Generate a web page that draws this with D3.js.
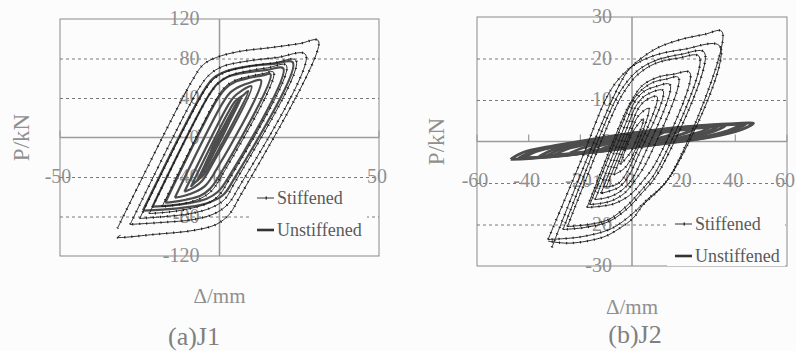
<!DOCTYPE html>
<html>
<head>
<meta charset="utf-8">
<script src="https://cdn.jsdelivr.net/npm/d3@7"></script>
<style>
  body { margin: 0; background: #fcfcfc; }
  svg { display: block; }
  text { font-family: "Liberation Serif", "DejaVu Serif", "Noto Serif", serif; }
</style>
</head>
<body>
<div id="chart"></div>
<script>
// --- data (displacement mm, load kN), one loop per array
var seriesNames = ['Stiffened', 'Unstiffened'];
var panelTitles = ['(a)J1', '(b)J2'];

var j1XTicks = [-50, 0, 50];
var j1YTicks = [-120, -80, -40, 0, 40, 80, 120];
var j2XTicks = [-60, -40, -20, 0, 20, 40, 60];
var j2YTicks = [-30, -20, -10, 0, 10, 20, 30];

var j1Stiffened = [
  [[-32,-92],[-8.5,58],[-5,74],[-1,81],[6,87],[16,91],[25,95],[31,98],[6,-62],[3,-78],[-1,-88],[-8,-94],[-20,-98],[-32,-101],[-31,-99]],
  [[-28,-88],[-6.4,50],[-3,64],[1,72],[8,77],[18,81],[27,84],[5.6,-53],[2.5,-68],[-1.5,-77],[-8,-83],[-18,-86],[-28,-88]],
  [[-25,-82],[-4.8,47],[-1.5,60],[2.5,67],[9,72],[17,75.5],[24,78],[4.2,-49],[1.5,-63],[-2.5,-71],[-9,-77],[-17,-80],[-25,-82]],
  [[-22,-77],[-3.1,44],[0,56],[3.5,63],[9,67.5],[15,70.5],[21,73],[2.4,-46],[-0.3,-59],[-4,-67],[-10,-72.5],[-16,-75.5],[-22,-77]],
  [[-18,-70],[-0.8,40],[2,52],[5,58],[9.5,62],[13.5,64.5],[17,66],[0.1,-42],[-2.5,-54],[-5.5,-61],[-10,-66],[-14,-68.5],[-18,-70]]
];
var j1Unstiffened = [
  [[-24,-74],[-5.2,46],[-2,60],[2,67],[9,72],[17,74.5],[23,76],[4.2,-44],[1.2,-58],[-3,-65.5],[-10,-70.5],[-18,-73],[-24,-74]],
  [[-21,-70],[-3.5,42],[-0.5,55],[3,62],[8.5,66],[15,68.5],[20,70],[2.5,-42],[-0.5,-55],[-4,-62],[-9.5,-66.5],[-16,-69],[-21,-70]],
  [[-17,-66],[-0.8,38],[2,50],[5,56.5],[9.5,60.5],[13.5,62.8],[16,64],[-0.3,-40],[-3,-52],[-6,-59],[-10.5,-63],[-14.5,-65.2],[-17,-66]],
  [[-14,-61],[1,35],[3.5,46],[6.5,52],[9.5,55.5],[13,58],[-1.8,-37],[-4.5,-49],[-7.5,-55],[-11,-59],[-14,-61]],
  [[-11,-55],[2.4,31],[4.5,41],[7,47.5],[10,52],[-3.3,-33],[-5.5,-44],[-8,-50.5],[-11,-55]],
  [[-9,-50],[2.5,24],[5,37],[7.5,43],[9,47],[-2.5,-25],[-5,-38],[-7.5,-45],[-9,-50]],
  [[-7,-44],[2.8,20],[5.5,34],[7,41],[-2.8,-20],[-5.5,-35],[-7,-44]],
  [[-6,-40],[1.5,10],[4.5,30],[6,38],[-1.5,-10],[-4.5,-31],[-6,-40]],
  [[-5,-36],[2.5,14],[4.5,27],[5.5,34],[-2.5,-14],[-4.5,-28],[-5,-36]],
  [[-4,-30],[1,4],[3.5,22],[4.5,29],[-1,-4],[-3.5,-23],[-4,-30]],
  [[-3.5,-26],[2,8],[3.5,20],[-2,-8],[-3.5,-26]]
];

var j2Stiffened = [
  [[-31,-25.5],[-16,-2],[-5,13.5],[-1,17.5],[3.5,20],[10,22.6],[19,24.6],[28,25.8],[34.8,26.5],[14.7,-8.4],[4,-15.5],[0.4,-18.5],[-5,-21],[-11,-23],[-24,-24.5],[-32.5,-24]],
  [[-32.5,-23.6],[-20,-5],[-9.5,11],[-4.5,15.5],[1,18.5],[9,20.8],[20,22.2],[34,23],[15.2,-8],[5,-14.5],[0,-17.5],[-8,-21],[-20,-23],[-32.5,-23.6]],
  [[-26.7,-21.2],[-7.2,9],[-3,13.5],[2,17],[9,19.5],[19,21],[28,21.5],[10.7,-7],[3,-13],[-1.5,-16],[-9,-19.3],[-18,-20.7],[-26.7,-21.2]],
  [[-25,-20.5],[-6.5,8],[-2.5,12.5],[2,16],[9,18.8],[18,20.1],[26,20.5],[9.5,-7],[2.5,-12.5],[-2,-15.5],[-9,-18.8],[-17,-20],[-25,-20.5]],
  [[-17.4,-15.9],[-3.3,6],[0,10],[4,13.5],[10,15.5],[16,16.2],[22.4,16.6],[9.3,-5],[3.5,-10],[-1,-13],[-7,-15],[-12,-15.6],[-17.4,-15.9]],
  [[-16.3,-15.2],[-3.3,5],[-0.5,9],[3,12],[8,14.2],[13,15],[18,15.4],[5.6,-5],[1,-9.5],[-3,-12.5],[-8,-14.3],[-12,-14.9],[-16.3,-15.2]],
  [[-14.3,-14],[-2,5],[1,9.5],[4.5,12],[9,13.2],[14.7,13.7],[3.4,-5],[-0.5,-9.5],[-4.5,-12],[-9,-13.4],[-14.3,-14]],
  [[-12,-12.5],[-1.5,4],[1.5,8.5],[5,11],[12,12.3],[2,-4],[-1.5,-8.5],[-5,-11],[-12,-12.5]],
  [[-10,-11],[-0.3,4],[2.5,8],[5.5,10],[9.7,10.8],[0.7,-4],[-2.5,-8],[-5.5,-10.2],[-10,-11]],
  [[-7,-8],[0,3],[2.5,6.2],[6.5,8],[0.5,-3],[-3,-6.5],[-7,-8]],
  [[-4.5,-5.5],[0.5,2.5],[4.5,5.5],[-0.5,-2.5],[-4.5,-5.5]]
];
var j2Unstiffened = [
  [[-47,-4.3],[-42,-2.6],[-30,-1.0],[-15,0.6],[0,2.0],[15,3.2],[30,4.0],[40,4.3],[47,4.4],[42,2.8],[30,1.0],[15,-0.3],[0,-1.5],[-15,-2.6],[-30,-3.6],[-40,-4.1],[-47,-4.3]],
  [[-44,-4.1],[-39,-2.5],[-28,-1.0],[-14,0.5],[0,1.9],[14,3.0],[28,3.8],[38,4.1],[44,4.2],[39,2.7],[28,0.9],[14,-0.3],[0,-1.4],[-14,-2.5],[-28,-3.5],[-38,-3.9],[-44,-4.1]],
  [[-42,-4.0],[-37,-2.4],[-26,-0.9],[-13,0.5],[0,1.8],[13,2.9],[26,3.7],[36,4.0],[42,4.1],[37,2.6],[26,0.9],[13,-0.3],[0,-1.3],[-13,-2.4],[-26,-3.3],[-36,-3.8],[-42,-4.0]],
  [[-36,-3.6],[-31,-2.1],[-22,-0.7],[-11,0.5],[0,1.6],[11,2.6],[22,3.3],[31,3.6],[36,3.7],[31,2.3],[22,0.8],[11,-0.3],[0,-1.2],[-11,-2.1],[-22,-3.0],[-31,-3.4],[-36,-3.6]],
  [[-33,-3.4],[-28,-2.0],[-20,-0.7],[0,1.5],[10,2.4],[20,3.1],[28,3.4],[33,3.5],[28,2.1],[20,0.8],[0,-1.1],[-10,-2.0],[-20,-2.8],[-28,-3.2],[-33,-3.4]],
  [[-30,-3.2],[-25,-1.8],[-17,-0.6],[0,1.4],[10,2.3],[18,2.9],[25,3.2],[30,3.3],[25,2.0],[17,0.7],[0,-1.0],[-10,-1.9],[-18,-2.6],[-25,-3.0],[-30,-3.2]],
  [[-24,-2.8],[-19,-1.5],[-12,-0.5],[0,1.2],[8,1.9],[14,2.5],[20,2.8],[24,2.9],[19,1.7],[12,0.6],[0,-0.9],[-8,-1.6],[-14,-2.2],[-20,-2.6],[-24,-2.8]],
  [[-18,-2.4],[-14,-1.3],[-7,-0.2],[0,1.0],[7,1.7],[14,2.3],[18,2.5],[14,1.4],[7,0.3],[0,-0.7],[-7,-1.5],[-14,-2.1],[-18,-2.4]],
  [[-12,-1.9],[-8,-0.9],[0,0.7],[6,1.4],[12,2.0],[8,1.0],[0,-0.5],[-6,-1.2],[-12,-1.9]],
  [[-7,-1.4],[-4,-0.5],[3,0.8],[7,1.5],[4,0.6],[-3,-0.7],[-7,-1.4]]
];

var textGray = '#8f8f8f';
var axisGray = '#9a9a9a';

var svg = d3.select('#chart').append('svg')
  .attr('width', 796)
  .attr('height', 351);

function drawPanel(cfg) {
  var x = d3.scaleLinear().domain(cfg.xDomain).range([cfg.left, cfg.right]);
  var y = d3.scaleLinear().domain(cfg.yDomain).range([cfg.bottom, cfg.top]);
  var g = svg.append('g');

  // frame
  g.append('rect')
    .attr('x', cfg.left).attr('y', cfg.top)
    .attr('width', cfg.right - cfg.left).attr('height', cfg.bottom - cfg.top)
    .attr('fill', 'none').attr('stroke', '#8a8a8a').attr('stroke-width', 1);

  // dashed gridlines
  var inner = cfg.yTicks.filter(function (t) {
    return t !== 0 && t !== cfg.yDomain[0] && t !== cfg.yDomain[1];
  });
  g.selectAll('.grid').data(inner).enter().append('line')
    .attr('x1', cfg.left).attr('x2', cfg.right)
    .attr('y1', function (d) { return y(d) + 0.5; })
    .attr('y2', function (d) { return y(d) + 0.5; })
    .attr('stroke', '#7a7a7a').attr('stroke-width', 1)
    .attr('stroke-dasharray', '3,3');

  // axes through zero
  g.append('line')
    .attr('x1', cfg.left).attr('x2', cfg.right)
    .attr('y1', y(0)).attr('y2', y(0))
    .attr('stroke', axisGray).attr('stroke-width', 1.5);
  g.append('line')
    .attr('x1', x(0)).attr('x2', x(0))
    .attr('y1', cfg.top).attr('y2', cfg.bottom)
    .attr('stroke', axisGray).attr('stroke-width', 1.5);

  // small tick marks on the x axis
  g.selectAll('.xt').data(cfg.xTicks).enter().append('line')
    .attr('x1', function (d) { return x(d); })
    .attr('x2', function (d) { return x(d); })
    .attr('y1', y(0)).attr('y2', y(0) - 7)
    .attr('stroke', axisGray).attr('stroke-width', 1.2);

  // tick labels (drawn under the curves)
  g.selectAll('.yl').data(cfg.yTicks).enter().append('text')
    .attr('x', x(0) - 20)
    .attr('y', function (d) { return y(d) + 6; })
    .attr('text-anchor', 'end')
    .attr('fill', textGray)
    .style('font-size', '20px')
    .text(function (d) { return d; });
  g.selectAll('.xl').data(cfg.xTicks).enter().append('text')
    .attr('x', function (d) { return x(d) - 2; })
    .attr('y', y(0) + 45)
    .attr('text-anchor', 'middle')
    .attr('fill', textGray)
    .style('font-size', '20px')
    .text(function (d) { return d; });

  var line = d3.line()
    .x(function (d) { return x(d[0]); })
    .y(function (d) { return y(d[1]); })
    .curve(d3.curveCatmullRom.alpha(0.5));

  // unstiffened: thick dark grey
  g.selectAll('.uns').data(cfg.unstiffened).enter().append('path')
    .attr('d', line)
    .attr('fill', 'none')
    .attr('stroke', '#4d4d4d')
    .attr('stroke-width', cfg.unsWidth);

  // stiffened: thin black with small markers
  g.selectAll('.sti').data(cfg.stiffened).enter().append('path')
    .attr('d', line)
    .attr('fill', 'none')
    .attr('stroke', '#1a1a1a')
    .attr('stroke-width', 0.9);
  g.selectAll('.stm').data(cfg.stiffened).enter().append('path')
    .attr('d', line)
    .attr('fill', 'none')
    .attr('stroke', '#1a1a1a')
    .attr('stroke-width', 2.4)
    .attr('stroke-dasharray', '1,6');

  // legend
  var lg = g.append('g').attr('transform', 'translate(' + cfg.legX + ',' + cfg.legY + ')');
  lg.append('rect')
    .attr('x', -8).attr('y', -16).attr('width', 118).attr('height', 58)
    .attr('fill', '#fcfcfc');
  lg.append('line').attr('x1', 0).attr('x2', 17).attr('y1', 0).attr('y2', 0)
    .attr('stroke', '#333').attr('stroke-width', 1);
  lg.append('line').attr('x1', 8.5).attr('x2', 10).attr('y1', 0).attr('y2', 0)
    .attr('stroke', '#333').attr('stroke-width', 3);
  lg.append('line').attr('x1', 0).attr('x2', 17).attr('y1', 32).attr('y2', 32)
    .attr('stroke', '#333').attr('stroke-width', 2.6);
  lg.selectAll('.lt').data(seriesNames).enter().append('text')
    .attr('x', 20)
    .attr('y', function (d, i) { return i * 32 + 6; })
    .attr('fill', '#5a5a5a')
    .style('font-size', '18px')
    .text(function (d) { return d; });

  // axis titles and caption
  g.append('text')
    .attr('transform', 'translate(' + cfg.yTitleX + ',' + y(0) + ') rotate(-90)')
    .attr('text-anchor', 'middle')
    .attr('fill', textGray)
    .style('font-size', '23px')
    .text('P/kN');
  g.append('text')
    .attr('x', x(0)).attr('y', cfg.xTitleY)
    .attr('text-anchor', 'middle')
    .attr('fill', textGray)
    .style('font-size', '21px')
    .text('\u0394/mm');
  g.append('text')
    .attr('x', cfg.capX).attr('y', cfg.capY)
    .attr('text-anchor', 'middle')
    .attr('fill', '#808080')
    .style('font-size', '26px')
    .text(cfg.title);
}

drawPanel({
  xDomain: [-50, 50], yDomain: [-120, 120],
  left: 60, right: 379, top: 19, bottom: 256,
  xTicks: j1XTicks, yTicks: j1YTicks,
  stiffened: j1Stiffened, unstiffened: j1Unstiffened, unsWidth: 2.2,
  legX: 257, legY: 198, yTitleX: 29, xTitleY: 303,
  capX: 194, capY: 345, title: panelTitles[0]
});

drawPanel({
  xDomain: [-60, 60], yDomain: [-30, 30],
  left: 477, right: 787, top: 17, bottom: 266,
  xTicks: j2XTicks, yTicks: j2YTicks,
  stiffened: j2Stiffened, unstiffened: j2Unstiffened, unsWidth: 2.8,
  legX: 675, legY: 224, yTitleX: 444, xTitleY: 314,
  capX: 635, capY: 343, title: panelTitles[1]
});
</script>
</body>
</html>
